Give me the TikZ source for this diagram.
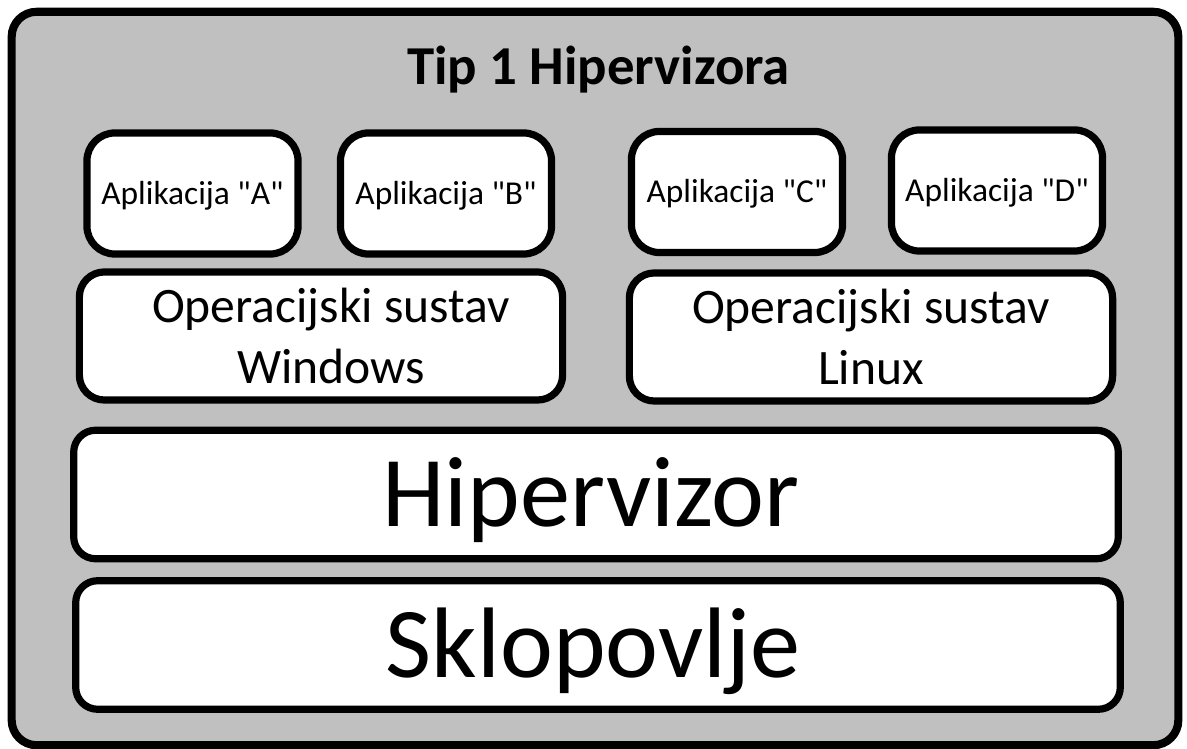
\documentclass[tikz,border=0pt]{standalone}
\usepackage{fontspec}
\setmainfont{Carlito}
\definecolor{panelgray}{HTML}{C0C0C0}
\newcommand{\dq}{\XeTeXglyph\the\XeTeXcharglyph"22\relax}
\tikzset{
  layer/.style={draw, line width=2.05pt, fill=white, inner sep=0pt, rounded corners=0.22cm},
  appbox/.style={layer, rounded corners=0.28cm, minimum width=2.11cm, minimum height=1.21cm,
    text height=6.1pt, text depth=0pt, font=\fontsize{9.5pt}{11.5pt}\selectfont},
  osbox/.style={layer, rounded corners=0.25cm, minimum width=4.83cm, minimum height=1.28cm,
    align=center, font=\fontsize{14.1pt}{17.2pt}\selectfont},
  basebox/.style={layer, minimum width=10.44cm, minimum height=1.285cm,
    text height=18.3pt, text depth=0pt, font=\fontsize{28.5pt}{34pt}\selectfont},
}
\begin{document}
\begin{tikzpicture}[x=0.01cm,y=-0.01cm]
  \useasboundingbox (0,0) rectangle (1187,749);
  \node[draw, line width=2.3pt, fill=panelgray, rounded corners=0.25cm,
    minimum width=11.66cm, minimum height=7.33cm] (frame) at (595,378.5) {};
  \node[anchor=base, font=\fontsize{15.6pt}{18pt}\selectfont\bfseries] (title) at (598.5,85) {Tip 1 Hipervizora};

  \node[appbox] (appA) at (192.5,193.5) {Aplikacija \dq A\dq};
  \node[appbox] (appB) at (446,193.5) {Aplikacija \dq B\dq};
  \node[appbox] (appC) at (737,192) {Aplikacija \dq C\dq};
  \node[appbox] (appD) at (997,190.5) {Aplikacija \dq D\dq};

  \node[osbox] (win) at (321,336) {\hspace*{0.2cm}Operacijski sustav\\\hspace*{0.2cm}Windows};
  \node[osbox] (linux) at (871,337) {Operacijski sustav\\Linux};

  \node[basebox] (hyp) at (596,494.5) {Hipervizor\hspace*{0.1cm}};
  \node[basebox] (hw) at (598,645) {Sklopovlje\hspace*{0.1cm}};
\end{tikzpicture}
\end{document}
